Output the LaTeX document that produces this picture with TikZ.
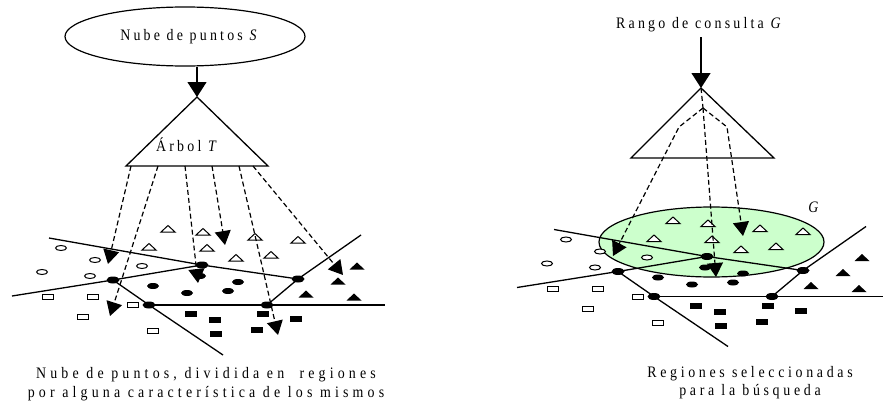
\documentclass[tikz,border=0pt]{standalone}
\usepackage{fontspec}
\setmainfont{Liberation Serif}[LetterSpace=20, FakeStretch=0.87]
\usetikzlibrary{arrows.meta,shapes.geometric}
\definecolor{zone}{RGB}{204,255,204}
\begin{document}
\begin{tikzpicture}[x=1pt,y=-1pt,
  lbl/.style={font=\fontsize{16}{18}\selectfont, inner sep=0pt},
  captxt/.style={font=\fontsize{16}{18.5}\selectfont\addfontfeature{LetterSpace=26}, inner sep=0pt, align=center},
  reg/.style={line width=1.3pt},
  dsh/.style={line width=1.2pt, dash pattern=on 5pt off 3pt},
  dtip/.style={-{Triangle[length=14pt,width=16pt]}},
  mtip/.style={-{Triangle[length=15pt,width=19pt]}},
  junc/.style={ellipse, fill=black, minimum width=13pt, minimum height=7pt, inner sep=0pt},
  mk/.style={line width=1pt},
  pics/ocirc/.style={code={\draw[mk, fill=white] (0,0) ellipse [x radius=5.5pt, y radius=2.5pt];}},
  pics/bcirc/.style={code={\fill (0,0) ellipse [x radius=6pt, y radius=3pt];}},
  pics/otri/.style={code={\draw[mk, fill=white] (-7,3) -- (7,3) -- (0,-3.5) -- cycle;}},
  pics/btri/.style={code={\fill (-7.5,3.5) -- (7.5,3.5) -- (0,-3.5) -- cycle;}},
  pics/orect/.style={code={\draw[mk, fill=white] (-5.5,-2.5) rectangle (5.5,2.5);}},
  pics/brect/.style={code={\fill (-6,-3) rectangle (6,3);}},
  pics/cloud/.style={code={
    \foreach \p in {(61,248),(95,260),(42,272),(90,276),(142,266)} \pic at \p {ocirc};
    \foreach \p in {(168,229),(203,232),(149,247),(207,248),(236,258),(255,237),(271,255),(298,240)} \pic at \p {otri};
    \foreach \p in {(153,286),(238,282),(187,293),(228,291),(200,276)} \pic at \p {bcirc};
    \foreach \p in {(357,266),(338,281),(306,294),(354,297)} \pic at \p {btri};
    \foreach \p in {(48,297),(93,297),(133,305),(83,317),(153,331)} \pic at \p {orect};
    \foreach \p in {(191,314),(215,320),(216,334),(263,314),(257,330),(296,319)} \pic at \p {brect};
    \node[junc] (j1) at (113,280) {};
    \node[junc] (j2) at (202,265) {};
    \node[junc] (j3) at (149,305) {};
    \node[junc] (j4) at (267,305) {};
    \node[junc] (j5) at (298,279) {};
    \coordinate (a0) at (49,238);
    \coordinate (b0) at (12,296);
    \coordinate (c0) at (223,355);
    \coordinate (d0) at (#1,305);
    \coordinate (e0) at (361,235);
    \draw[reg] (a0) -- (j2.center) -- (j5.center);
    \draw[reg] (b0) -- (j1.center) -- (j2.center);
    \draw[reg] (j1.center) -- (j3.center) -- (c0);
    \draw[reg] (j3.center) -- (j4.center) -- (d0);
    \draw[reg] (j4.center) -- (j5.center) -- (e0);
  }}
]
\useasboundingbox (0,0) rectangle (883,404);

% ---------------- left diagram ----------------
\node[ellipse, draw, line width=1.2pt, minimum width=240pt, minimum height=59pt, lbl] (S) at (185,36.5) {\hspace*{10pt}Nube de puntos \textit{S}};
\coordinate (Ta) at (197,97);
\coordinate (Tl) at (126,166);
\coordinate (Tr) at (268,166);
\draw[reg] (Ta) -- (Tl) -- (Tr) -- cycle;
\node[lbl] (Tlab) at (188,145) {Árbol \textit{T}};
\draw[reg, mtip] (S.south -| Ta) -- (Ta);

\pic (L) at (0,0) {cloud=385};

\foreach \i/\sx/\ex/\ey in {1/131/108/264, 2/158/110/316, 3/185/198/283, 4/212/225/245, 5/239/278/335, 6/253/343/275} {
  \coordinate (ls\i) at (\sx,166);
  \coordinate (le\i) at (\ex,\ey);
  \draw[dsh, dtip] (ls\i) -- (le\i);
}

\node[captxt] (capL) at (206,384) {Nube de puntos, dividida en~ regiones\\por alguna característica de los mismos};

% ---------------- right diagram ----------------
\node[ellipse, draw, line width=1.2pt, fill=zone, minimum width=225pt, minimum height=70pt, inner sep=0pt] (Gz) at (711.5,242) {};
\node[lbl] (Glab) at (815,207) {\textit{G}};

\pic (R) at (505,-8.5) {cloud=378};

\node[lbl] (Q) at (700,25) {Rango de consulta \textit{G}};
\coordinate (RTa) at (701,88);
\coordinate (RTl) at (631,158);
\coordinate (RTr) at (774,158);
\draw[reg] (RTa) -- (RTl) -- (RTr) -- cycle;
\draw[reg, mtip, shorten <=5pt] (Q.south -| RTa) -- (RTa);

\coordinate (RF) at (703,108);
\coordinate (RFl) at (679,127);
\coordinate (RFr) at (727,127);
\coordinate (re1) at (613,256);
\coordinate (re2) at (716,277);
\coordinate (re3) at (743,236);
\draw[dsh] (RTa) -- (RF);
\draw[dsh, dtip] (RF) -- (RFl) -- (re1);
\draw[dsh, dtip] (RF) -- (re2);
\draw[dsh, dtip] (RF) -- (RFr) -- (re3);

\node[captxt, font=\fontsize{16}{18.5}\selectfont\addfontfeature{LetterSpace=23}] (capR) at (750,382.5) {Regiones seleccionadas\\para la búsqueda};
\end{tikzpicture}
\end{document}
